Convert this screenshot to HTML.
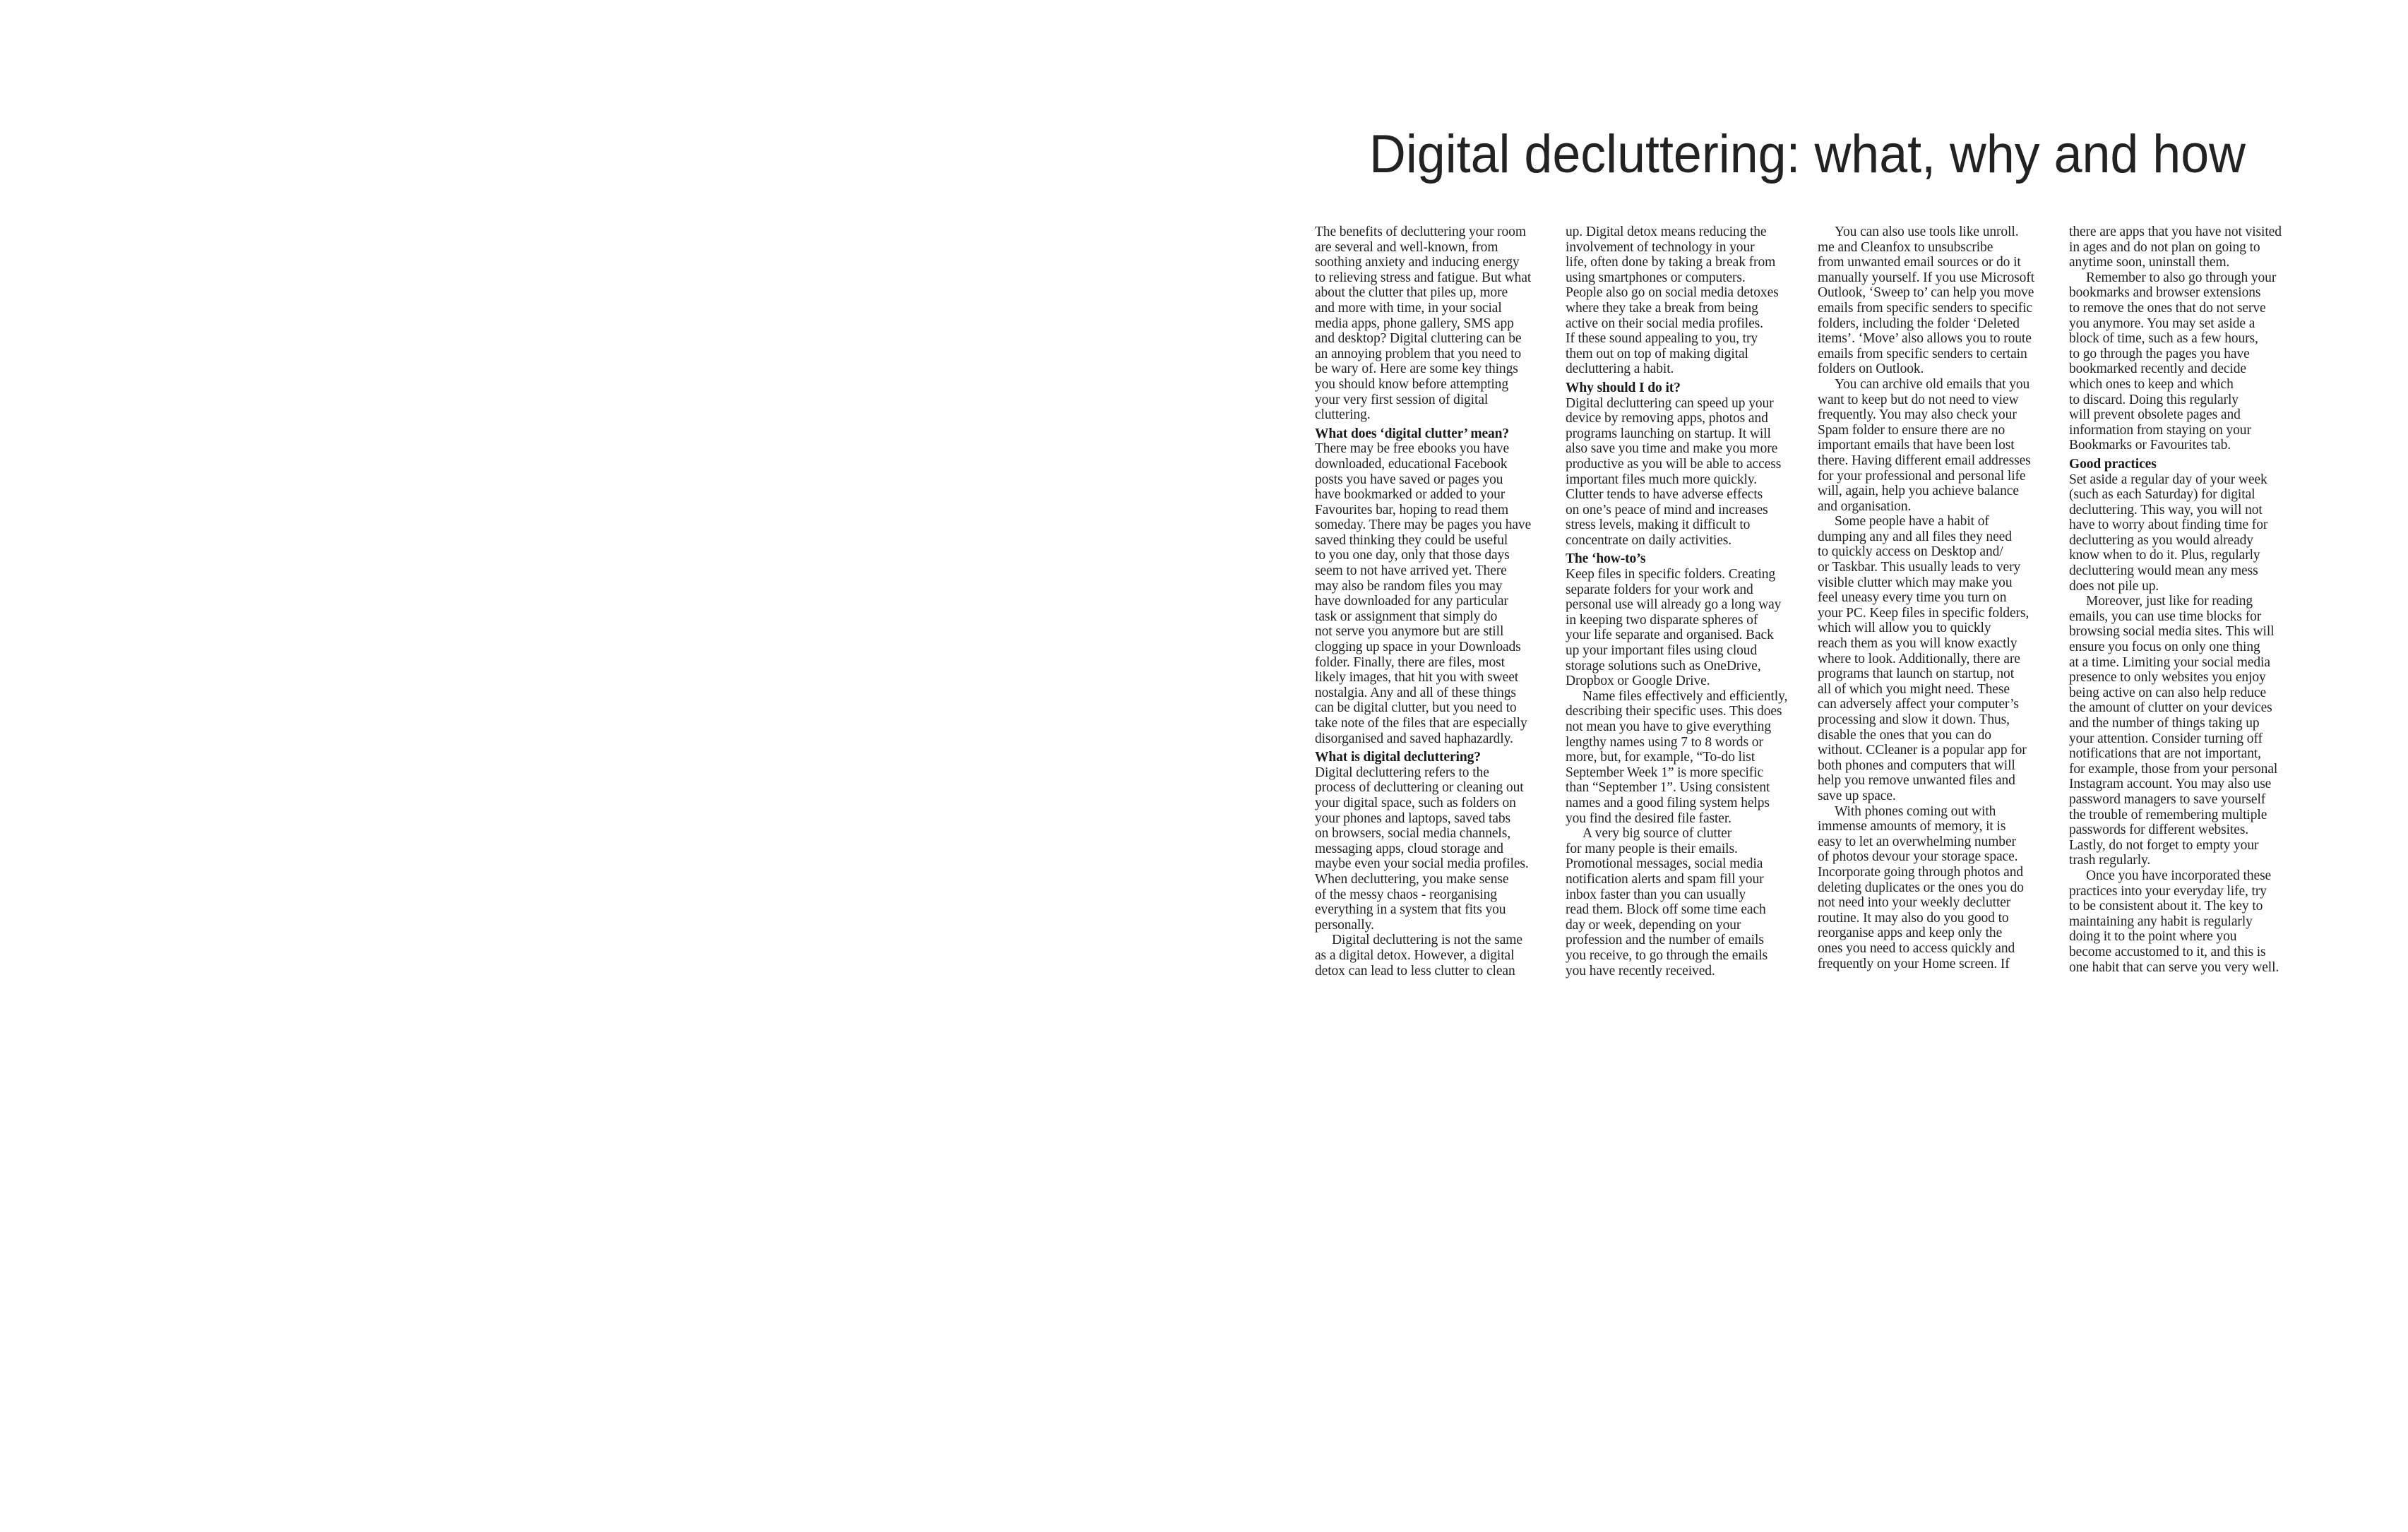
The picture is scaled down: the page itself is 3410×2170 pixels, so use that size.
<!DOCTYPE html>
<html><head><meta charset="utf-8">
<style>
html,body{margin:0;padding:0;background:#fff;}
body{width:3410px;height:2170px;position:relative;overflow:hidden;}
.col{position:absolute;top:318px;width:345px;font-family:"Liberation Serif",serif;font-size:19.5px;line-height:21.6px;color:#222;letter-spacing:-0.1px;white-space:nowrap;}
.col div{height:21.6px;}
.col .h{font-weight:bold;margin-top:5px;color:#1a1a1a;}
.col .i{text-indent:24px;}
</style></head><body>
<svg style="position:absolute;left:0;top:0" width="3410" height="400">
<text x="1939" y="244" font-family="Liberation Sans, sans-serif" font-size="76" fill="#222" textLength="1241" lengthAdjust="spacingAndGlyphs">Digital decluttering: what, why and how</text>
</svg>

<div class="col" style="left:1862px">
<div>The benefits of decluttering your room</div>
<div>are several and well-known, from</div>
<div>soothing anxiety and inducing energy</div>
<div>to relieving stress and fatigue. But what</div>
<div>about the clutter that piles up, more</div>
<div>and more with time, in your social</div>
<div>media apps, phone gallery, SMS app</div>
<div>and desktop? Digital cluttering can be</div>
<div>an annoying problem that you need to</div>
<div>be wary of. Here are some key things</div>
<div>you should know before attempting</div>
<div>your very first session of digital</div>
<div>cluttering.</div>
<div class="h">What does ‘digital clutter’ mean?</div>
<div>There may be free ebooks you have</div>
<div>downloaded, educational Facebook</div>
<div>posts you have saved or pages you</div>
<div>have bookmarked or added to your</div>
<div>Favourites bar, hoping to read them</div>
<div>someday. There may be pages you have</div>
<div>saved thinking they could be useful</div>
<div>to you one day, only that those days</div>
<div>seem to not have arrived yet. There</div>
<div>may also be random files you may</div>
<div>have downloaded for any particular</div>
<div>task or assignment that simply do</div>
<div>not serve you anymore but are still</div>
<div>clogging up space in your Downloads</div>
<div>folder. Finally, there are files, most</div>
<div>likely images, that hit you with sweet</div>
<div>nostalgia. Any and all of these things</div>
<div>can be digital clutter, but you need to</div>
<div>take note of the files that are especially</div>
<div>disorganised and saved haphazardly.</div>
<div class="h">What is digital decluttering?</div>
<div>Digital decluttering refers to the</div>
<div>process of decluttering or cleaning out</div>
<div>your digital space, such as folders on</div>
<div>your phones and laptops, saved tabs</div>
<div>on browsers, social media channels,</div>
<div>messaging apps, cloud storage and</div>
<div>maybe even your social media profiles.</div>
<div>When decluttering, you make sense</div>
<div>of the messy chaos - reorganising</div>
<div>everything in a system that fits you</div>
<div>personally.</div>
<div class="i">Digital decluttering is not the same</div>
<div>as a digital detox. However, a digital</div>
<div>detox can lead to less clutter to clean</div>
</div>

<div class="col" style="left:2217px">
<div>up. Digital detox means reducing the</div>
<div>involvement of technology in your</div>
<div>life, often done by taking a break from</div>
<div>using smartphones or computers.</div>
<div>People also go on social media detoxes</div>
<div>where they take a break from being</div>
<div>active on their social media profiles.</div>
<div>If these sound appealing to you, try</div>
<div>them out on top of making digital</div>
<div>decluttering a habit.</div>
<div class="h">Why should I do it?</div>
<div>Digital decluttering can speed up your</div>
<div>device by removing apps, photos and</div>
<div>programs launching on startup. It will</div>
<div>also save you time and make you more</div>
<div>productive as you will be able to access</div>
<div>important files much more quickly.</div>
<div>Clutter tends to have adverse effects</div>
<div>on one’s peace of mind and increases</div>
<div>stress levels, making it difficult to</div>
<div>concentrate on daily activities.</div>
<div class="h">The ‘how-to’s</div>
<div>Keep files in specific folders. Creating</div>
<div>separate folders for your work and</div>
<div>personal use will already go a long way</div>
<div>in keeping two disparate spheres of</div>
<div>your life separate and organised. Back</div>
<div>up your important files using cloud</div>
<div>storage solutions such as OneDrive,</div>
<div>Dropbox or Google Drive.</div>
<div class="i">Name files effectively and efficiently,</div>
<div>describing their specific uses. This does</div>
<div>not mean you have to give everything</div>
<div>lengthy names using 7 to 8 words or</div>
<div>more, but, for example, “To-do list</div>
<div>September Week 1” is more specific</div>
<div>than “September 1”. Using consistent</div>
<div>names and a good filing system helps</div>
<div>you find the desired file faster.</div>
<div class="i">A very big source of clutter</div>
<div>for many people is their emails.</div>
<div>Promotional messages, social media</div>
<div>notification alerts and spam fill your</div>
<div>inbox faster than you can usually</div>
<div>read them. Block off some time each</div>
<div>day or week, depending on your</div>
<div>profession and the number of emails</div>
<div>you receive, to go through the emails</div>
<div>you have recently received.</div>
</div>

<div class="col" style="left:2574px">
<div class="i">You can also use tools like unroll.</div>
<div>me and Cleanfox to unsubscribe</div>
<div>from unwanted email sources or do it</div>
<div>manually yourself. If you use Microsoft</div>
<div>Outlook, ‘Sweep to’ can help you move</div>
<div>emails from specific senders to specific</div>
<div>folders, including the folder ‘Deleted</div>
<div>items’. ‘Move’ also allows you to route</div>
<div>emails from specific senders to certain</div>
<div>folders on Outlook.</div>
<div class="i">You can archive old emails that you</div>
<div>want to keep but do not need to view</div>
<div>frequently. You may also check your</div>
<div>Spam folder to ensure there are no</div>
<div>important emails that have been lost</div>
<div>there. Having different email addresses</div>
<div>for your professional and personal life</div>
<div>will, again, help you achieve balance</div>
<div>and organisation.</div>
<div class="i">Some people have a habit of</div>
<div>dumping any and all files they need</div>
<div>to quickly access on Desktop and/</div>
<div>or Taskbar. This usually leads to very</div>
<div>visible clutter which may make you</div>
<div>feel uneasy every time you turn on</div>
<div>your PC. Keep files in specific folders,</div>
<div>which will allow you to quickly</div>
<div>reach them as you will know exactly</div>
<div>where to look. Additionally, there are</div>
<div>programs that launch on startup, not</div>
<div>all of which you might need. These</div>
<div>can adversely affect your computer’s</div>
<div>processing and slow it down. Thus,</div>
<div>disable the ones that you can do</div>
<div>without. CCleaner is a popular app for</div>
<div>both phones and computers that will</div>
<div>help you remove unwanted files and</div>
<div>save up space.</div>
<div class="i">With phones coming out with</div>
<div>immense amounts of memory, it is</div>
<div>easy to let an overwhelming number</div>
<div>of photos devour your storage space.</div>
<div>Incorporate going through photos and</div>
<div>deleting duplicates or the ones you do</div>
<div>not need into your weekly declutter</div>
<div>routine. It may also do you good to</div>
<div>reorganise apps and keep only the</div>
<div>ones you need to access quickly and</div>
<div>frequently on your Home screen. If</div>
</div>

<div class="col" style="left:2930px">
<div>there are apps that you have not visited</div>
<div>in ages and do not plan on going to</div>
<div>anytime soon, uninstall them.</div>
<div class="i">Remember to also go through your</div>
<div>bookmarks and browser extensions</div>
<div>to remove the ones that do not serve</div>
<div>you anymore. You may set aside a</div>
<div>block of time, such as a few hours,</div>
<div>to go through the pages you have</div>
<div>bookmarked recently and decide</div>
<div>which ones to keep and which</div>
<div>to discard. Doing this regularly</div>
<div>will prevent obsolete pages and</div>
<div>information from staying on your</div>
<div>Bookmarks or Favourites tab.</div>
<div class="h">Good practices</div>
<div>Set aside a regular day of your week</div>
<div>(such as each Saturday) for digital</div>
<div>decluttering. This way, you will not</div>
<div>have to worry about finding time for</div>
<div>decluttering as you would already</div>
<div>know when to do it. Plus, regularly</div>
<div>decluttering would mean any mess</div>
<div>does not pile up.</div>
<div class="i">Moreover, just like for reading</div>
<div>emails, you can use time blocks for</div>
<div>browsing social media sites. This will</div>
<div>ensure you focus on only one thing</div>
<div>at a time. Limiting your social media</div>
<div>presence to only websites you enjoy</div>
<div>being active on can also help reduce</div>
<div>the amount of clutter on your devices</div>
<div>and the number of things taking up</div>
<div>your attention. Consider turning off</div>
<div>notifications that are not important,</div>
<div>for example, those from your personal</div>
<div>Instagram account. You may also use</div>
<div>password managers to save yourself</div>
<div>the trouble of remembering multiple</div>
<div>passwords for different websites.</div>
<div>Lastly, do not forget to empty your</div>
<div>trash regularly.</div>
<div class="i">Once you have incorporated these</div>
<div>practices into your everyday life, try</div>
<div>to be consistent about it. The key to</div>
<div>maintaining any habit is regularly</div>
<div>doing it to the point where you</div>
<div>become accustomed to it, and this is</div>
<div>one habit that can serve you very well.</div>
</div>
</body></html>
